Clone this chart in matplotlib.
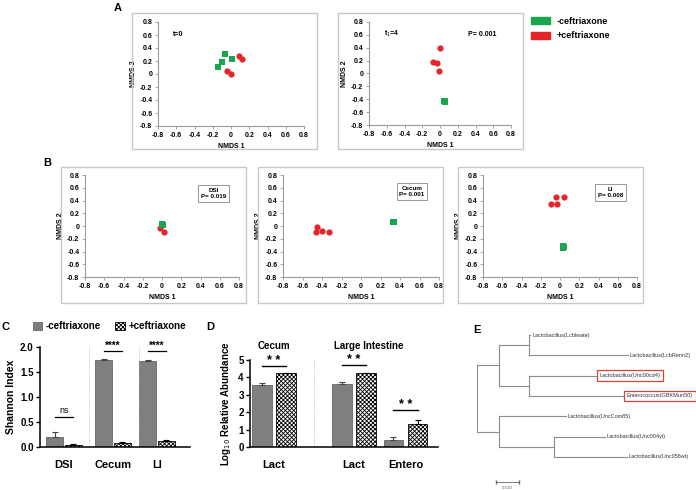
import numpy as np
import matplotlib
matplotlib.use('Agg')
import matplotlib.pyplot as plt
from matplotlib.patches import Rectangle, Patch

plt.rcParams['font.family'] = ['Liberation Sans', 'DejaVu Sans']
plt.rcParams['hatch.linewidth'] = 0.6

GREEN = '#1aa64f'
RED = '#e4262b'
GREY = '#7f7f7f'
HATCH = 'xxxxxxxx'

# ---- data: NMDS ordinations (x, y) ----
a0_green = [(-0.14, 0.10), (-0.10, 0.18), (-0.07, 0.31), (0.015, 0.23)]
a0_red = [(-0.04, 0.04), (0.0, 0.0), (0.09, 0.27), (0.12, 0.23)]
a1_green = [(0.05, -0.42), (0.06, -0.43), (0.055, -0.44)]
a1_red = [(0.0, 0.40), (-0.08, 0.18), (-0.03, 0.17), (-0.01, 0.04)]

dsi_green = [(0.0, 0.02), (0.005, 0.03), (-0.005, 0.015), (0.01, 0.02)]
dsi_red = [(-0.02, -0.03), (0.02, -0.10)]
cec_green = [(0.33, 0.07), (0.34, 0.06), (0.335, 0.065)]
cec_red = [(-0.45, -0.01), (-0.46, -0.09), (-0.40, -0.08), (-0.33, -0.10)]
li_green = [(0.03, -0.32), (0.04, -0.33), (0.03, -0.34), (0.035, -0.31)]
li_red = [(-0.045, 0.46), (0.04, 0.45), (-0.09, 0.35), (-0.03, 0.34)]

# ---- data: Shannon index ----
shannon_sites = ['DSI', 'Cecum', 'LI']
shannon_minus = [0.20, 1.75, 1.72]
shannon_minus_err = [0.11, 0.01, 0.015]
shannon_plus = [0.05, 0.09, 0.12]
shannon_plus_err = [0.02, 0.015, 0.025]
shannon_sig = ['ns', '****', '****']
shannon_sig_y = [0.60, 1.92, 1.92]

# ---- data: qPCR ----
qpcr_labels = ['Lact', 'Lact', 'Entero']
qpcr_minus = [3.55, 3.63, 0.40]
qpcr_minus_err = [0.10, 0.08, 0.20]
qpcr_plus = [4.25, 4.25, 1.35]
qpcr_plus_err = [0.03, 0.03, 0.18]
qpcr_sig_y = [4.65, 4.70, 2.10]

# ---- data: tree (child, branch length) ----
clade_a = [['Lactobacillus(Lcblwate)', 0.0006], ['Lactobacillus(LcbRenn2)', 0.0430]]
clade_b = [['Lactobacillus(Unc00cd4)', 0.0300], ['Enterococcus(GBKMun50)', 0.0417]]
clade_c = [['Lactobacillus(Unc004yi)', 0.0222], ['Lactobacillus(Unc056wt)', 0.0317]]
tree = [[[[clade_a, 0.0130], [clade_b, 0.0130]], 0.0096],
        [[['Lactobacillus(UncCom85)', 0.0291], [clade_c, 0.0239]], 0.0096]]
highlight = ['Lactobacillus(Unc00cd4)', 'Enterococcus(GBKMun50)']

W, H = 696, 490
fig = plt.figure(figsize=(W / 100, H / 100), dpi=100)


def box(l, t, r, b):
    return [l / W, 1 - b / H, (r - l) / W, (b - t) / H]


def frame(l, t, r, b):
    fig.add_artist(Rectangle((l / W, 1 - b / H), (r - l) / W, (b - t) / H,
                             transform=fig.transFigure, fill=False,
                             ec='#c8c8c8', lw=1.0))


def nmds(rect, green, red):
    ax = fig.add_axes(box(*rect))
    g = np.array(green)
    r = np.array(red)
    ax.scatter(r[:, 0], r[:, 1], marker='o', s=20, color=RED, lw=0, zorder=3)
    ax.scatter(g[:, 0], g[:, 1], marker='s', s=22, color=GREEN, lw=0, zorder=3)
    ax.set_xlim(-0.8, 0.8)
    ax.set_ylim(-0.8, 0.8)
    ticks = np.round(np.arange(-0.8, 0.81, 0.2), 1)
    labs = ['0' if t == 0 else '%.1f' % t for t in ticks]
    ax.set_xticks(ticks)
    ax.set_xticklabels(labs)
    ax.set_yticks(ticks)
    ax.set_yticklabels(labs)
    for s in ['top', 'right']:
        ax.spines[s].set_visible(False)
    for s in ['left', 'bottom']:
        ax.spines[s].set_color('#999999')
        ax.spines[s].set_linewidth(0.8)
    ax.tick_params(labelsize=5, length=2, width=0.6, color='#999999', pad=2)
    for t in ax.get_xticklabels() + ax.get_yticklabels():
        t.set_fontweight('bold')
    ax.set_xlabel('NMDS 1', fontsize=5, fontweight='bold', labelpad=3)
    ax.set_ylabel('NMDS 2', fontsize=5, fontweight='bold', labelpad=2)
    return ax


# ---- panel A ----
frame(132, 13, 317, 149)
frame(338, 13, 523, 149)
ax = nmds((158, 22, 304, 126), a0_green, a0_red)
ax.text(0.10, 0.88, 't=0', transform=ax.transAxes, fontsize=5, fontweight='bold', va='center')
ax = nmds((369, 22, 511, 125), a1_green, a1_red)
ax.text(0.105, 0.88, 't$_1$=4', transform=ax.transAxes, fontsize=5, fontweight='bold', va='center')
ax.text(0.90, 0.88, 'P= 0.001', transform=ax.transAxes, fontsize=5, fontweight='bold',
        va='center', ha='right')
fig.text(118 / W, 1 - 8 / H, 'A', fontsize=8, fontweight='bold', ha='center', va='center')

fig.legend(handles=[Patch(color=GREEN, label='-ceftriaxone'), Patch(color=RED, label='+ceftriaxone')],
           loc='upper left', bbox_to_anchor=(531 / W, 1 - 17 / H), frameon=False,
           prop={'size': 6.5, 'weight': 'bold'}, handlelength=2.1, handleheight=0.8,
           handletextpad=0.7, labelspacing=0.6, borderpad=0, borderaxespad=0)

# ---- panel B ----
frame(61, 167, 246, 303)
frame(258, 167, 443, 303)
frame(458, 167, 643, 303)
bstyle = dict(boxstyle='square,pad=0.45', fc='white', ec='#888888', lw=0.6)
ax = nmds((85, 175, 239, 277), dsi_green, dsi_red)
ax.text(0.834, 0.82, 'DSI\nP= 0.019', transform=ax.transAxes, fontsize=4.5, fontweight='bold',
        ha='center', va='center', bbox=bstyle, linespacing=1.3)
ax = nmds((283, 175, 439, 277), cec_green, cec_red)
ax.text(0.827, 0.84, 'Cecum\nP= 0.001', transform=ax.transAxes, fontsize=4.5, fontweight='bold',
        ha='center', va='center', bbox=bstyle, linespacing=1.3)
ax = nmds((483, 175, 637, 277), li_green, li_red)
ax.text(0.83, 0.83, 'LI\nP= 0.008', transform=ax.transAxes, fontsize=4.5, fontweight='bold',
        ha='center', va='center', bbox=bstyle, linespacing=1.3)
fig.text(47 / W, 1 - 163 / H, 'B', fontsize=8, fontweight='bold', ha='center', va='center')


def style_bar_axes(ax):
    for s in ['top', 'right']:
        ax.spines[s].set_visible(False)
    for s in ['left', 'bottom']:
        ax.spines[s].set_linewidth(1.1)
    ax.tick_params(axis='y', labelsize=7, length=3, width=1.0, pad=1.5)
    ax.tick_params(axis='x', labelsize=8, length=0, pad=9)
    for t in ax.get_xticklabels() + ax.get_yticklabels():
        t.set_fontweight('bold')


# ---- panel C ----
axc = fig.add_axes(box(40, 347, 190, 447))
pos_c = np.array([0, 1.054, 2.0])
off_c, w_c = 0.204, 0.355
axc.bar(pos_c - off_c, shannon_minus, w_c, color=GREY, edgecolor='#666666', lw=0.6,
        yerr=[np.zeros(3), shannon_minus_err], capsize=2.5,
        error_kw=dict(elinewidth=0.8, capthick=0.8, ecolor='#444444'), label='-ceftriaxone')
axc.bar(pos_c + off_c, shannon_plus, w_c, color='white', edgecolor='black', lw=0.6,
        hatch=HATCH, yerr=[np.zeros(3), shannon_plus_err], capsize=2.5,
        error_kw=dict(elinewidth=0.8, capthick=0.8), label='+ceftriaxone')
for x in [0.54, 1.61]:
    axc.axvline(x, color='#aaaaaa', lw=0.6, ls=':')
for x, lab, y in zip(pos_c, shannon_sig, shannon_sig_y):
    axc.plot([x - off_c, x + off_c], [y, y], color='black', lw=0.9)
    if lab == 'ns':
        axc.text(x, y + 0.04, lab, ha='center', va='bottom', fontsize=6.5)
    else:
        axc.text(x, y + 0.0, lab, ha='center', va='bottom', fontsize=7, fontweight='bold')
axc.set_xlim(-0.516, 2.71)
axc.set_ylim(0, 2.0)
axc.set_yticks([0, 0.5, 1.0, 1.5, 2.0])
axc.set_yticklabels(['0.0', '0.5', '1.0', '1.5', '2.0'])
axc.set_xticks(pos_c)
axc.set_xticklabels(shannon_sites)
style_bar_axes(axc)
axc.set_ylabel('Shannon Index', fontsize=7.5, fontweight='bold', labelpad=3)
axc.legend(loc='center left', bbox_to_anchor=(-0.05, 1.21), ncol=2, frameon=False,
           prop={'size': 7, 'weight': 'bold'}, handlelength=1.0, handleheight=0.9,
           handletextpad=0.4, columnspacing=1.4, borderpad=0, borderaxespad=0)
fig.text(5 / W, 1 - 327 / H, 'C', fontsize=8, fontweight='bold', ha='center', va='center')

# ---- panel D ----
axd = fig.add_axes(box(250, 360, 438, 447))
pos_d = np.array([0, 1.553, 2.553])
off_d, w_d = 0.233, 0.388
axd.bar(pos_d - off_d, qpcr_minus, w_d, color=GREY, edgecolor='#666666', lw=0.6,
        yerr=[np.zeros(3), qpcr_minus_err], capsize=2.5,
        error_kw=dict(elinewidth=0.8, capthick=0.8, ecolor='#444444'))
axd.bar(pos_d + off_d, qpcr_plus, w_d, color='white', edgecolor='black', lw=0.6,
        hatch=HATCH, yerr=[np.zeros(3), qpcr_plus_err], capsize=2.5,
        error_kw=dict(elinewidth=0.8, capthick=0.8))
axd.axvline(0.777, color='#aaaaaa', lw=0.6, ls=':')
for x, y in zip(pos_d, qpcr_sig_y):
    axd.plot([x - off_d, x + off_d], [y, y], color='black', lw=1.0)
    axd.text(x, y - 0.05, '* *', ha='center', va='bottom', fontsize=9, fontweight='bold')
axd.text(pos_d[0], 5.5, 'Cecum', ha='center', va='bottom', fontsize=7, fontweight='bold')
axd.text(1.83, 5.5, 'Large Intestine', ha='center', va='bottom', fontsize=7, fontweight='bold')
axd.set_xlim(-0.466, 3.184)
axd.set_ylim(0, 5)
axd.set_yticks(range(6))
axd.set_xticks(pos_d)
axd.set_xticklabels(qpcr_labels)
style_bar_axes(axd)
axd.set_ylabel('Log$_{10}$ Relative Abundance', fontsize=7, fontweight='bold', labelpad=4)
fig.text(210 / W, 1 - 327 / H, 'D', fontsize=8, fontweight='bold', ha='center', va='center')

# ---- panel E: tree ----
axe = fig.add_axes(box(477, 325, 696, 490))
axe.axis('off')
axe.set_xlim(0, (696 - 477) / 2300)
axe.set_ylim((490 - 335) / 20.33, -(335 - 325) / 20.33)
leaf_count = [0]
TREE_C = '#8c8c8c'


def draw(children, x):
    ys = []
    for child, length in children:
        x1 = x + length
        if isinstance(child, str):
            y = leaf_count[0]
            leaf_count[0] += 1
            kw = {}
            if child in highlight:
                kw['bbox'] = dict(boxstyle='square,pad=0.5', fc='white', ec='#d9403a', lw=0.9)
            axe.text(x1 + 0.0008, y, child, fontsize=4, va='center', ha='left',
                     color='#333333', clip_on=False, **kw)
        else:
            y = draw(child, x1)
        axe.plot([x, x1], [y, y], color=TREE_C, lw=0.8)
        ys.append(y)
    axe.plot([x, x], [min(ys), max(ys)], color=TREE_C, lw=0.8)
    return (min(ys) + max(ys)) / 2


draw(tree, 0.0)
sb_x, sb_y = 0.0083, 7.23
axe.plot([sb_x, sb_x + 0.010], [sb_y, sb_y], color='#666666', lw=0.6, marker='|', ms=2.5)
axe.text(sb_x + 0.005, sb_y + 0.3, '0.010', fontsize=3.2, ha='center', va='center', color='#666666')
fig.text(477 / W, 1 - 330 / H, 'E', fontsize=8, fontweight='bold', ha='center', va='center')

fig.savefig('out.png', dpi=100)
